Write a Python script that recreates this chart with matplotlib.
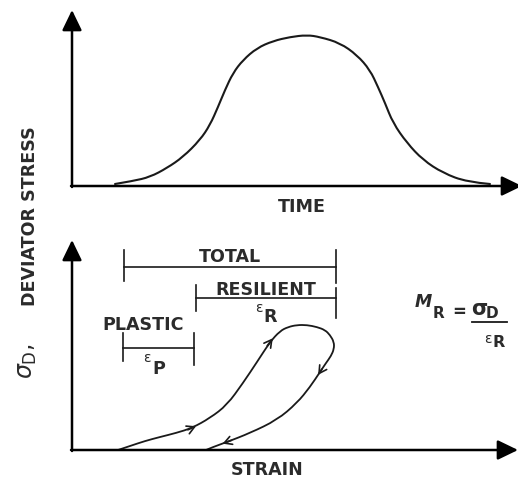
import matplotlib.pyplot as plt
from matplotlib.path import Path
from matplotlib.patches import PathPatch

# everything is laid out on a 518 x 480 canvas (y grows downward)

# top panel: load pulse, deviator stress against time
pulse_t = [115, 133, 150, 167, 183, 200, 210, 218, 225, 233, 243, 257, 273, 290,
           307, 320, 340, 357, 370, 378, 385, 393, 407, 423, 443, 467, 490]
pulse_s = [184, 181, 177, 168, 157, 140, 125, 107, 90, 73, 60, 48, 41, 37,
           35, 37, 43, 55, 70, 87, 103, 123, 143, 160, 173, 182, 184]

# bottom panel: hysteresis loop, stress against strain
loop_e = [118, 130, 145, 160, 176, 192, 210, 227, 243, 257, 270, 280, 288, 297,
          307, 317, 325, 330, 334, 334, 331, 326, 320, 310, 297, 277, 250, 227,
          213, 206]
loop_s = [450, 446, 441, 437, 433, 428, 418, 405, 383, 362, 342, 331, 327, 325,
          325, 327, 330, 335, 342, 349, 356, 363, 372, 387, 403, 420, 433, 442,
          447, 450]
loop_arrow_idx = [5, 10, 22, 27]   # arrowheads sit on these loop points

# strain bars: label, left, right, line level, tick spans
bar_names = ['TOTAL', 'RESILIENT', 'PLASTIC']
bar_left = [124, 196, 123]
bar_right = [336, 336, 194]
bar_level = [267, 298, 348]
bar_left_tick = [(250, 281), (285, 311), (333, 361)]
bar_right_tick = [(250, 283), (288, 318), (333, 365)]
bar_label_xy = [(230, 262), (266, 295), (143, 330)]

ink = '#2b2b2b'
line_c = '#1a1a1a'
fw = 'bold'
fs = 12.6

fig = plt.figure(figsize=(5.18, 4.8), dpi=100)
ax = fig.add_axes([0, 0, 1, 1])
ax.set_xlim(0, 518)
ax.set_ylim(480, 0)
ax.axis('off')


def axis_arrow(start, tip):
    ax.annotate('', xy=tip, xytext=start, annotation_clip=False,
                arrowprops=dict(arrowstyle='-|>,head_length=0.62,head_width=0.3',
                                mutation_scale=20, lw=1.8, color='k',
                                shrinkA=0, shrinkB=0))


def smooth_curve(xs, ys, lw):
    # quadratic bezier through the read points (drawn as a smooth stroke)
    pts = list(zip(xs, ys))
    verts = [pts[0]]
    codes = [Path.MOVETO]
    for i in range(1, len(pts) - 1):
        if i < len(pts) - 2:
            end = ((pts[i][0] + pts[i + 1][0]) / 2, (pts[i][1] + pts[i + 1][1]) / 2)
        else:
            end = pts[-1]
        verts += [pts[i], end]
        codes += [Path.CURVE3, Path.CURVE3]
    ax.add_patch(PathPatch(Path(verts, codes), fill=False, ec=line_c, lw=lw,
                           capstyle='round', joinstyle='round'))


# axes with arrowheads
axis_arrow((72, 187), (72, 10))
axis_arrow((71, 186), (522, 186))
axis_arrow((72, 451), (72, 240))
axis_arrow((71, 450), (518, 450))

# curves
smooth_curve(pulse_t, pulse_s, 1.5)
smooth_curve(loop_e, loop_s, 1.3)
for i in loop_arrow_idx:
    dx = (loop_e[i + 1] - loop_e[i - 1]) * 0.3
    dy = (loop_s[i + 1] - loop_s[i - 1]) * 0.3
    ax.annotate('', xy=(loop_e[i] + dx * 0.4, loop_s[i] + dy * 0.4),
                xytext=(loop_e[i] - dx * 0.4, loop_s[i] - dy * 0.4),
                arrowprops=dict(arrowstyle='->,head_length=0.45,head_width=0.25',
                                mutation_scale=12, lw=1.2, color=line_c,
                                shrinkA=0, shrinkB=0))

# strain bars
for name, x0, x1, y, lt, rt, (tx, ty) in zip(bar_names, bar_left, bar_right,
                                             bar_level, bar_left_tick,
                                             bar_right_tick, bar_label_xy):
    ax.plot([x0, x1], [y, y], color=line_c, lw=1.2)
    ax.plot([x0, x0], lt, color=line_c, lw=1.2)
    ax.plot([x1, x1], rt, color=line_c, lw=1.2)
    ax.text(tx, ty, name, ha='center', va='baseline', fontsize=fs,
            fontweight=fw, color=ink)

# strain symbols under the bars
ax.text(258.5, 308.5, 'ε', ha='center', va='center', fontsize=10, color=ink)
ax.text(263, 322, 'R', ha='left', va='baseline', fontsize=fs, fontweight=fw, color=ink)
ax.text(146.5, 358.5, 'ε', ha='center', va='center', fontsize=10, color=ink)
ax.text(152, 374, 'P', ha='left', va='baseline', fontsize=fs, fontweight=fw, color=ink)

# axis titles
ax.text(302, 212, 'TIME', ha='center', va='baseline', fontsize=fs,
        fontweight=fw, color=ink)
ax.text(267, 475, 'STRAIN', ha='center', va='baseline', fontsize=fs,
        fontweight=fw, color=ink)
ax.text(35, 216, 'DEVIATOR STRESS', rotation=90, rotation_mode='anchor',
        ha='center', va='baseline', fontsize=fs, fontweight=fw, color=ink)
ax.text(33, 361, r'$\sigma_{\mathrm{D}}$,', rotation=90, rotation_mode='anchor',
        ha='center', va='baseline', fontsize=17, color=ink)

# resilient modulus formula
ax.text(415, 307, 'M', ha='left', va='baseline', fontsize=12.5, fontweight=fw,
        fontstyle='italic', color=ink)
ax.text(433, 318, 'R', ha='left', va='baseline', fontsize=11, fontweight=fw, color=ink)
ax.text(459, 312, '=', ha='center', va='center', fontsize=12, fontweight=fw, color=ink)
ax.text(471, 315, 'σ', ha='left', va='baseline', fontsize=15, fontweight=fw, color=ink)
ax.text(486, 318, 'D', ha='left', va='baseline', fontsize=11, fontweight=fw, color=ink)
ax.plot([472, 507], [322, 322], color=line_c, lw=1.3)
ax.text(488, 339, 'ε', ha='center', va='center', fontsize=10, color=ink)
ax.text(493, 347, 'R', ha='left', va='baseline', fontsize=11.5, fontweight=fw, color=ink)

fig.savefig('out.png', dpi=100)
